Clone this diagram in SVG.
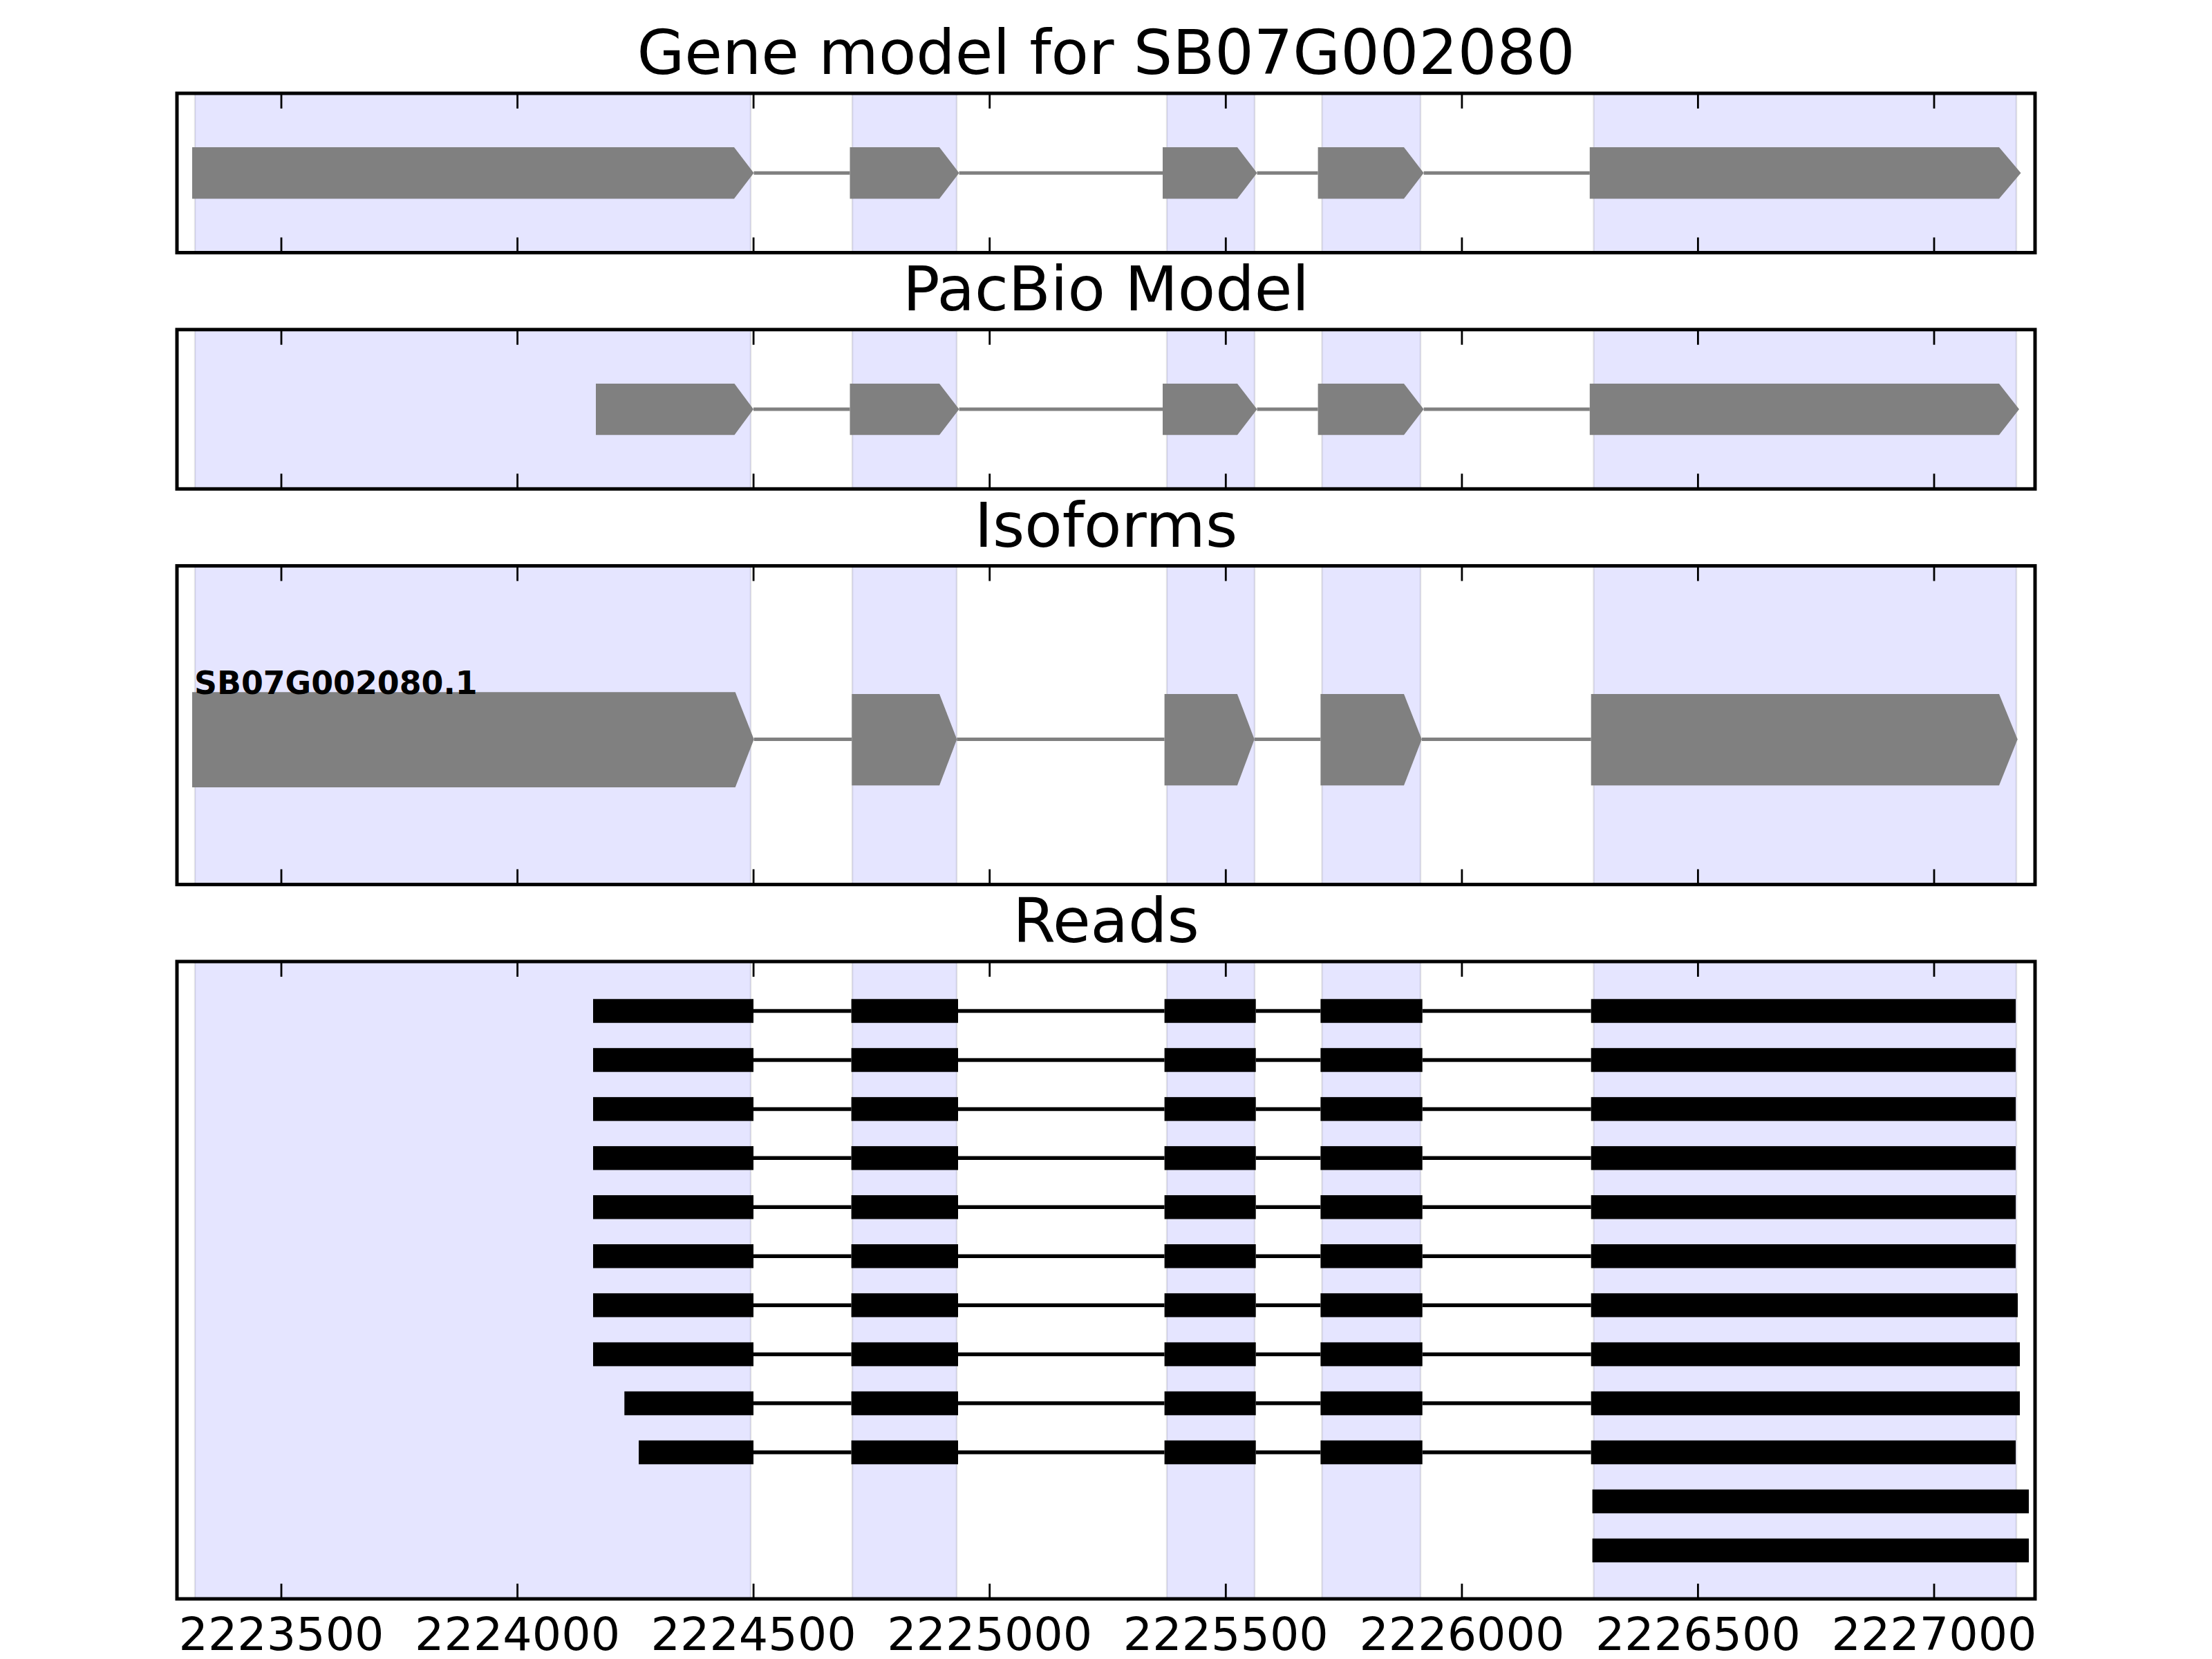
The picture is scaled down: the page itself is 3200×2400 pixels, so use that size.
<svg xmlns="http://www.w3.org/2000/svg" width="3200" height="2400" viewBox="0 0 3200 2400">
<style>
.bg{fill:#fff}
.frame{fill:none;stroke:#000;stroke-width:5}
.shade{fill:#E5E5FF;stroke:#000;stroke-opacity:0.1;stroke-width:2.5}
.tick{fill:none;stroke:#000;stroke-width:2.8}
.title{font-family:"DejaVu Sans","Liberation Sans",sans-serif;font-size:88.9px;text-anchor:middle;fill:#000}
.tl{font-family:"DejaVu Sans","Liberation Sans",sans-serif;font-size:66.7px;text-anchor:middle;fill:#000}
.lbl{font-family:"DejaVu Sans","Liberation Sans",sans-serif;font-size:45.8px;font-weight:bold;fill:#000}
.exon{fill:#808080}
.read{fill:#000}
.intron{stroke:#808080;stroke-width:5;fill:none}
.rintron{stroke:#000;stroke-width:5.5;fill:none}
</style>
<defs>
<path id="ticks230" d="M407,0v22M748.6,0v22M1090.1,0v22M1431.7,0v22M1773.3,0v22M2114.9,0v22M2456.4,0v22M2798,0v22M407,230.5v-22M748.6,230.5v-22M1090.1,230.5v-22M1431.7,230.5v-22M1773.3,230.5v-22M2114.9,230.5v-22M2456.4,230.5v-22M2798,230.5v-22"/>
<path id="ticks461" d="M407,0v22M748.6,0v22M1090.1,0v22M1431.7,0v22M1773.3,0v22M2114.9,0v22M2456.4,0v22M2798,0v22M407,461v-22M748.6,461v-22M1090.1,461v-22M1431.7,461v-22M1773.3,461v-22M2114.9,461v-22M2456.4,461v-22M2798,461v-22"/>
<path id="ticks922" d="M407,0v22M748.6,0v22M1090.1,0v22M1431.7,0v22M1773.3,0v22M2114.9,0v22M2456.4,0v22M2798,0v22M407,922v-22M748.6,922v-22M1090.1,922v-22M1431.7,922v-22M1773.3,922v-22M2114.9,922v-22M2456.4,922v-22M2798,922v-22"/>
</defs>
<rect class="bg" x="0" y="0" width="3200" height="2400"/>

<!-- shading -->
<g id="shading">
<g transform="translate(0,135)">
<rect class="shade" x="282" y="0" width="804" height="230.5"/>
<rect class="shade" x="1233" y="0" width="151" height="230.5"/>
<rect class="shade" x="1688" y="0" width="127" height="230.5"/>
<rect class="shade" x="1912.5" y="0" width="142.5" height="230.5"/>
<rect class="shade" x="2305.5" y="0" width="611.5" height="230.5"/>
</g>
<g transform="translate(0,476.8)">
<rect class="shade" x="282" y="0" width="804" height="230.5"/>
<rect class="shade" x="1233" y="0" width="151" height="230.5"/>
<rect class="shade" x="1688" y="0" width="127" height="230.5"/>
<rect class="shade" x="1912.5" y="0" width="142.5" height="230.5"/>
<rect class="shade" x="2305.5" y="0" width="611.5" height="230.5"/>
</g>
<g transform="translate(0,818.6)">
<rect class="shade" x="282" y="0" width="804" height="461"/>
<rect class="shade" x="1233" y="0" width="151" height="461"/>
<rect class="shade" x="1688" y="0" width="127" height="461"/>
<rect class="shade" x="1912.5" y="0" width="142.5" height="461"/>
<rect class="shade" x="2305.5" y="0" width="611.5" height="461"/>
</g>
<g transform="translate(0,1391)">
<rect class="shade" x="282" y="0" width="804" height="922"/>
<rect class="shade" x="1233" y="0" width="151" height="922"/>
<rect class="shade" x="1688" y="0" width="127" height="922"/>
<rect class="shade" x="1912.5" y="0" width="142.5" height="922"/>
<rect class="shade" x="2305.5" y="0" width="611.5" height="922"/>
</g>
</g>

<!-- connectors (introns) -->
<g id="connectors">
<path class="intron" d="M1090.5,250.25H1229.5M1387.5,250.25H1682M1818.5,250.25H1906.6M2059.6,250.25H2299.8"/>
<path class="intron" d="M1090,592H1229.5M1387.5,592H1682M1818.5,592H1906.6M2059.6,592H2299.8"/>
<path class="intron" d="M1090.7,1069.5H1232.3M1384.3,1069.5H1684.6M1814.7,1069.5H1910.4M2056.8,1069.5H2301.7"/>
<path class="rintron" d="M1090,1462.5H1231.6M1386,1462.5H1684.6M1816.7,1462.5H1910.4M2057.7,1462.5H2301.7"/>
<path class="rintron" d="M1090,1533.45H1231.6M1386,1533.45H1684.6M1816.7,1533.45H1910.4M2057.7,1533.45H2301.7"/>
<path class="rintron" d="M1090,1604.4H1231.6M1386,1604.4H1684.6M1816.7,1604.4H1910.4M2057.7,1604.4H2301.7"/>
<path class="rintron" d="M1090,1675.35H1231.6M1386,1675.35H1684.6M1816.7,1675.35H1910.4M2057.7,1675.35H2301.7"/>
<path class="rintron" d="M1090,1746.3H1231.6M1386,1746.3H1684.6M1816.7,1746.3H1910.4M2057.7,1746.3H2301.7"/>
<path class="rintron" d="M1090,1817.25H1231.6M1386,1817.25H1684.6M1816.7,1817.25H1910.4M2057.7,1817.25H2301.7"/>
<path class="rintron" d="M1090,1888.2H1231.6M1386,1888.2H1684.6M1816.7,1888.2H1910.4M2057.7,1888.2H2301.7"/>
<path class="rintron" d="M1090,1959.15H1231.6M1386,1959.15H1684.6M1816.7,1959.15H1910.4M2057.7,1959.15H2301.7"/>
<path class="rintron" d="M1090,2030.1H1231.6M1386,2030.1H1684.6M1816.7,2030.1H1910.4M2057.7,2030.1H2301.7"/>
<path class="rintron" d="M1090,2101.05H1231.6M1386,2101.05H1684.6M1816.7,2101.05H1910.4M2057.7,2101.05H2301.7"/>
</g>

<!-- Gene model -->
<g id="gene-model">
<text class="title" x="1600" y="107">Gene model for SB07G002080</text>
<path class="exon" d="M278,213H1062L1090.5,250.25L1062,287.5H278Z"/>
<path class="exon" d="M1229.5,213H1359L1387.5,250.25L1359,287.5H1229.5Z"/>
<path class="exon" d="M1682,213H1790L1818.5,250.25L1790,287.5H1682Z"/>
<path class="exon" d="M1906.6,213H2031L2059.6,250.25L2031,287.5H1906.6Z"/>
<path class="exon" d="M2299.8,213H2892L2923.5,250.25L2892,287.5H2299.8Z"/>
</g>

<!-- PacBio model -->
<g id="pacbio-model">
<text class="title" x="1600" y="448.8">PacBio Model</text>
<path class="exon" d="M862,555H1062.5L1090,592L1062.5,629.3H862Z"/>
<path class="exon" d="M1229.5,555H1359L1387.5,592L1359,629.3H1229.5Z"/>
<path class="exon" d="M1682,555H1790L1818.5,592L1790,629.3H1682Z"/>
<path class="exon" d="M1906.6,555H2031L2059.6,592L2031,629.3H1906.6Z"/>
<path class="exon" d="M2299.8,555H2892L2921,592L2892,629.3H2299.8Z"/>
</g>

<!-- Isoforms -->
<g id="isoforms">
<text class="title" x="1600" y="790.6">Isoforms</text>
<g id="isoform-SB07G002080.1">
<path class="exon" d="M278,1001.3H1063.7L1090.7,1069.5L1063.7,1139H278Z"/>
<path class="exon" d="M1232.3,1004H1359L1384.3,1069.5L1359,1136.3H1232.3Z"/>
<path class="exon" d="M1684.6,1004H1789.9L1814.7,1069.5L1789.9,1136.3H1684.6Z"/>
<path class="exon" d="M1910.4,1004H2031L2056.8,1069.5L2031,1136.3H1910.4Z"/>
<path class="exon" d="M2301.7,1004H2892L2918.7,1069.5L2892,1136.3H2301.7Z"/>
<text class="lbl" x="281" y="1004">SB07G002080.1</text>
</g>
</g>

<!-- Reads -->
<g id="reads">
<text class="title" x="1600" y="1363">Reads</text>
<g id="read-1"><rect class="read" x="858" y="1445.25" width="232" height="34.5"/><rect class="read" x="1231.6" y="1445.25" width="154.4" height="34.5"/><rect class="read" x="1684.6" y="1445.25" width="132.1" height="34.5"/><rect class="read" x="1910.4" y="1445.25" width="147.3" height="34.5"/><rect class="read" x="2301.7" y="1445.25" width="614.3" height="34.5"/></g>
<g id="read-2"><rect class="read" x="858" y="1516.2" width="232" height="34.5"/><rect class="read" x="1231.6" y="1516.2" width="154.4" height="34.5"/><rect class="read" x="1684.6" y="1516.2" width="132.1" height="34.5"/><rect class="read" x="1910.4" y="1516.2" width="147.3" height="34.5"/><rect class="read" x="2301.7" y="1516.2" width="614.3" height="34.5"/></g>
<g id="read-3"><rect class="read" x="858" y="1587.15" width="232" height="34.5"/><rect class="read" x="1231.6" y="1587.15" width="154.4" height="34.5"/><rect class="read" x="1684.6" y="1587.15" width="132.1" height="34.5"/><rect class="read" x="1910.4" y="1587.15" width="147.3" height="34.5"/><rect class="read" x="2301.7" y="1587.15" width="614.3" height="34.5"/></g>
<g id="read-4"><rect class="read" x="858" y="1658.1" width="232" height="34.5"/><rect class="read" x="1231.6" y="1658.1" width="154.4" height="34.5"/><rect class="read" x="1684.6" y="1658.1" width="132.1" height="34.5"/><rect class="read" x="1910.4" y="1658.1" width="147.3" height="34.5"/><rect class="read" x="2301.7" y="1658.1" width="614.3" height="34.5"/></g>
<g id="read-5"><rect class="read" x="858" y="1729.05" width="232" height="34.5"/><rect class="read" x="1231.6" y="1729.05" width="154.4" height="34.5"/><rect class="read" x="1684.6" y="1729.05" width="132.1" height="34.5"/><rect class="read" x="1910.4" y="1729.05" width="147.3" height="34.5"/><rect class="read" x="2301.7" y="1729.05" width="614.3" height="34.5"/></g>
<g id="read-6"><rect class="read" x="858" y="1800" width="232" height="34.5"/><rect class="read" x="1231.6" y="1800" width="154.4" height="34.5"/><rect class="read" x="1684.6" y="1800" width="132.1" height="34.5"/><rect class="read" x="1910.4" y="1800" width="147.3" height="34.5"/><rect class="read" x="2301.7" y="1800" width="614.3" height="34.5"/></g>
<g id="read-7"><rect class="read" x="858" y="1870.95" width="232" height="34.5"/><rect class="read" x="1231.6" y="1870.95" width="154.4" height="34.5"/><rect class="read" x="1684.6" y="1870.95" width="132.1" height="34.5"/><rect class="read" x="1910.4" y="1870.95" width="147.3" height="34.5"/><rect class="read" x="2301.7" y="1870.95" width="617.3" height="34.5"/></g>
<g id="read-8"><rect class="read" x="858" y="1941.9" width="232" height="34.5"/><rect class="read" x="1231.6" y="1941.9" width="154.4" height="34.5"/><rect class="read" x="1684.6" y="1941.9" width="132.1" height="34.5"/><rect class="read" x="1910.4" y="1941.9" width="147.3" height="34.5"/><rect class="read" x="2301.7" y="1941.9" width="620.3" height="34.5"/></g>
<g id="read-9"><rect class="read" x="903.3" y="2012.85" width="186.7" height="34.5"/><rect class="read" x="1231.6" y="2012.85" width="154.4" height="34.5"/><rect class="read" x="1684.6" y="2012.85" width="132.1" height="34.5"/><rect class="read" x="1910.4" y="2012.85" width="147.3" height="34.5"/><rect class="read" x="2301.7" y="2012.85" width="620.3" height="34.5"/></g>
<g id="read-10"><rect class="read" x="924" y="2083.8" width="166" height="34.5"/><rect class="read" x="1231.6" y="2083.8" width="154.4" height="34.5"/><rect class="read" x="1684.6" y="2083.8" width="132.1" height="34.5"/><rect class="read" x="1910.4" y="2083.8" width="147.3" height="34.5"/><rect class="read" x="2301.7" y="2083.8" width="614.3" height="34.5"/></g>
<g id="read-11"><rect class="read" x="2303.6" y="2154.75" width="631.4" height="34.5"/></g>
<g id="read-12"><rect class="read" x="2303.6" y="2225.7" width="631.4" height="34.5"/></g>
</g>

<!-- frames and ticks -->
<g id="axes">
<use href="#ticks230" class="tick" transform="translate(0,135)"/>
<use href="#ticks230" class="tick" transform="translate(0,476.8)"/>
<use href="#ticks461" class="tick" transform="translate(0,818.6)"/>
<use href="#ticks922" class="tick" transform="translate(0,1391)"/>
<rect class="frame" x="256" y="135" width="2688" height="230.5"/>
<rect class="frame" x="256" y="476.8" width="2688" height="230.5"/>
<rect class="frame" x="256" y="818.6" width="2688" height="461"/>
<rect class="frame" x="256" y="1391" width="2688" height="922"/>
<text class="tl" x="407" y="2387">2223500</text>
<text class="tl" x="748.6" y="2387">2224000</text>
<text class="tl" x="1090.1" y="2387">2224500</text>
<text class="tl" x="1431.7" y="2387">2225000</text>
<text class="tl" x="1773.3" y="2387">2225500</text>
<text class="tl" x="2114.9" y="2387">2226000</text>
<text class="tl" x="2456.4" y="2387">2226500</text>
<text class="tl" x="2798" y="2387">2227000</text>
</g>
</svg>
